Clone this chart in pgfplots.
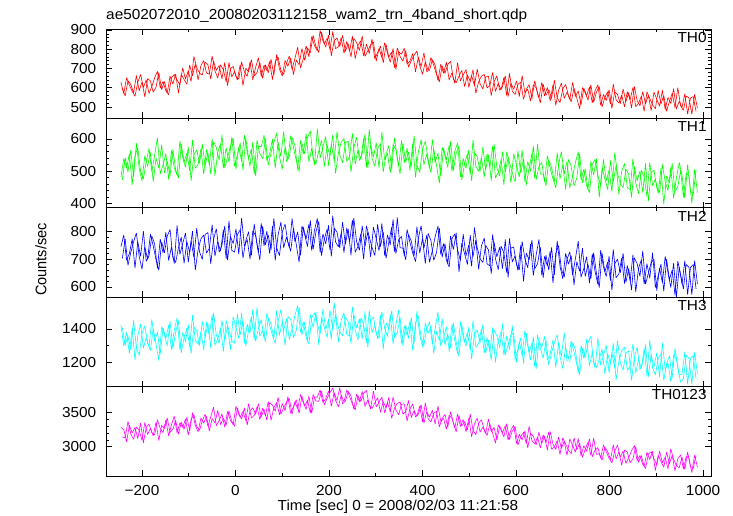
\documentclass[border=0pt]{standalone}
\usepackage{fontspec}
\setmainfont{Liberation Sans}
\usepackage{pgfplots}
\usepackage{pgfplotstable}
\pgfplotsset{compat=1.18}

\definecolor{cRed}{rgb}{1,0,0}
\definecolor{cGreen}{rgb}{0,1,0}
\definecolor{cBlue}{rgb}{0,0,1}
\definecolor{cCyan}{rgb}{0,1,1}
\definecolor{cMag}{rgb}{1,0,1}

% count rates; "a" tables: one value every 6 s from t = -245 s,
% "b" tables: the bins in between, from t = -242 s
\pgfplotstableread[row sep=\\]{y\\629\\570\\652\\614\\582\\556\\629\\669\\601\\641\\570\\607\\651\\685\\599\\633\\584\\564\\652\\669\\641\\615\\703\\645\\688\\632\\762\\706\\676\\666\\733\\719\\645\\739\\690\\716\\646\\732\\611\\698\\711\\658\\645\\734\\683\\659\\734\\641\\706\\756\\658\\717\\689\\736\\642\\734\\760\\691\\670\\727\\764\\696\\751\\810\\704\\751\\817\\761\\866\\818\\792\\897\\844\\812\\873\\766\\845\\858\\814\\872\\789\\829\\760\\856\\835\\793\\868\\763\\793\\823\\837\\738\\804\\756\\834\\780\\732\\804\\696\\786\\774\\805\\722\\738\\778\\683\\759\\709\\782\\684\\691\\746\\717\\637\\722\\675\\733\\641\\678\\623\\730\\636\\666\\695\\602\\664\\610\\697\\621\\594\\656\\659\\560\\632\\662\\587\\605\\662\\554\\624\\592\\635\\554\\663\\574\\593\\531\\616\\599\\546\\628\\558\\602\\532\\615\\509\\586\\624\\545\\577\\539\\628\\555\\584\\511\\597\\560\\604\\522\\584\\615\\509\\565\\534\\590\\493\\579\\566\\517\\594\\529\\576\\494\\607\\534\\506\\580\\516\\560\\481\\578\\541\\504\\587\\487\\549\\518\\595\\489\\530\\498\\569\\463\\546\\554\\478\\}\thzeroa
\pgfplotstableread[row sep=\\]{y\\593\\558\\637\\617\\573\\664\\584\\630\\553\\647\\636\\577\\603\\679\\590\\633\\572\\660\\619\\672\\572\\669\\643\\618\\718\\662\\723\\640\\715\\741\\676\\671\\765\\688\\651\\719\\694\\630\\731\\656\\684\\640\\720\\611\\701\\683\\746\\662\\679\\732\\649\\720\\677\\748\\666\\773\\697\\661\\742\\712\\754\\668\\744\\719\\804\\742\\806\\781\\872\\814\\783\\888\\829\\857\\798\\892\\803\\813\\859\\779\\840\\790\\868\\751\\820\\844\\766\\826\\778\\853\\750\\783\\816\\729\\825\\759\\786\\705\\807\\762\\738\\793\\707\\741\\769\\791\\714\\670\\734\\690\\757\\716\\669\\631\\713\\675\\721\\737\\645\\626\\661\\690\\606\\668\\632\\694\\571\\631\\660\\669\\599\\611\\680\\581\\623\\590\\653\\560\\674\\582\\565\\617\\629\\540\\592\\617\\543\\637\\572\\522\\619\\561\\590\\544\\639\\548\\523\\594\\617\\562\\527\\598\\546\\491\\601\\573\\536\\616\\525\\578\\606\\500\\550\\579\\515\\619\\537\\521\\562\\501\\580\\537\\602\\502\\519\\557\\478\\579\\545\\511\\491\\586\\516\\560\\478\\528\\572\\496\\600\\506\\483\\557\\547\\462\\566\\493\\}\thzerob

\pgfplotstableread[row sep=\\]{y\\482\\539\\509\\554\\458\\548\\572\\500\\476\\530\\570\\498\\549\\603\\492\\519\\555\\474\\564\\510\\488\\593\\542\\512\\575\\470\\551\\566\\524\\584\\516\\558\\492\\591\\573\\534\\612\\510\\543\\576\\602\\506\\575\\530\\611\\560\\515\\590\\485\\578\\575\\611\\533\\554\\599\\509\\590\\545\\623\\530\\544\\604\\580\\505\\595\\553\\616\\529\\571\\520\\631\\541\\574\\607\\517\\583\\532\\622\\550\\526\\587\\593\\497\\572\\605\\533\\554\\614\\509\\581\\543\\588\\510\\621\\534\\555\\495\\582\\567\\516\\595\\526\\571\\502\\586\\481\\559\\598\\520\\553\\508\\598\\526\\556\\484\\571\\535\\580\\499\\562\\587\\482\\539\\509\\566\\470\\557\\545\\497\\575\\503\\551\\470\\584\\512\\485\\560\\497\\542\\464\\554\\518\\482\\566\\467\\530\\500\\578\\473\\515\\527\\467\\548\\509\\476\\449\\521\\560\\491\\530\\449\\485\\527\\560\\473\\506\\455\\434\\521\\536\\488\\455\\536\\470\\503\\437\\557\\494\\461\\449\\506\\491\\419\\515\\470\\500\\434\\524\\407\\497\\503\\449\\434\\521\\467\\440\\512\\416\\479\\527\\488\\416\\521\\437\\428\\503\\}\thonea
\pgfplotstableread[row sep=\\]{y\\473\\542\\497\\566\\482\\587\\509\\470\\548\\515\\558\\468\\540\\510\\582\\495\\531\\486\\567\\504\\479\\584\\527\\557\\500\\596\\509\\521\\569\\491\\567\\519\\600\\486\\558\\585\\510\\573\\528\\606\\515\\551\\587\\503\\602\\539\\569\\491\\596\\554\\539\\599\\518\\557\\590\\617\\545\\506\\575\\536\\610\\574\\532\\499\\586\\553\\604\\625\\538\\523\\562\\595\\514\\580\\547\\613\\493\\556\\589\\601\\530\\545\\617\\521\\566\\536\\602\\512\\629\\539\\516\\570\\585\\498\\552\\579\\507\\603\\540\\492\\586\\529\\559\\514\\610\\520\\496\\568\\592\\538\\496\\568\\517\\463\\574\\547\\511\\592\\502\\556\\578\\473\\524\\554\\491\\596\\515\\500\\542\\482\\554\\512\\578\\479\\497\\536\\458\\560\\527\\494\\467\\563\\494\\539\\458\\509\\554\\479\\584\\491\\491\\455\\533\\512\\467\\557\\476\\521\\443\\536\\515\\455\\479\\554\\464\\506\\443\\530\\488\\539\\419\\509\\476\\443\\533\\467\\518\\428\\500\\524\\449\\443\\539\\464\\431\\503\\482\\422\\527\\455\\476\\431\\509\\398\\485\\464\\524\\437\\452\\503\\419\\494\\485\\401\\506\\434\\}\thoneb

\pgfplotstableread[row sep=\\]{y\\745\\787\\696\\720\\773\\668\\763\\710\\801\\692\\712\\783\\755\\667\\772\\723\\797\\695\\744\\684\\822\\717\\756\\794\\689\\766\\706\\812\\727\\699\\789\\796\\683\\771\\810\\725\\750\\820\\697\\782\\756\\809\\718\\848\\746\\771\\700\\802\\785\\725\\829\\748\\801\\720\\819\\696\\787\\833\\741\\780\\742\\847\\763\\798\\714\\816\\773\\826\\731\\805\\847\\724\\791\\755\\822\\710\\812\\798\\741\\833\\753\\809\\714\\848\\763\\732\\820\\746\\799\\707\\815\\773\\731\\829\\713\\787\\752\\843\\720\\770\\782\\712\\807\\761\\722\\691\\775\\821\\740\\786\\689\\731\\781\\819\\717\\756\\696\\672\\774\\791\\734\\695\\790\\712\\751\\674\\814\\741\\702\\688\\750\\733\\648\\761\\708\\743\\666\\771\\634\\740\\743\\680\\662\\764\\701\\669\\754\\641\\715\\771\\643\\710\\675\\728\\615\\721\\749\\664\\636\\700\\726\\642\\702\\765\\635\\666\\709\\614\\719\\656\\609\\732\\672\\637\\711\\588\\683\\700\\651\\721\\617\\667\\589\\705\\684\\638\\730\\610\\649\\688\\700\\587\\668\\615\\710\\651\\598\\686\\563\\672\\610\\695\\572\\670\\681\\593\\}\thtwoa
\pgfplotstableread[row sep=\\]{y\\703\\773\\678\\724\\763\\794\\710\\664\\745\\699\\790\\748\\698\\660\\762\\723\\783\\807\\705\\688\\741\\780\\685\\763\\724\\801\\661\\734\\773\\787\\722\\739\\824\\711\\764\\729\\806\\701\\838\\732\\725\\788\\806\\704\\767\\799\\714\\827\\753\\697\\819\\752\\787\\734\\847\\741\\713\\798\\826\\762\\728\\812\\752\\689\\819\\788\\745\\840\\735\\798\\836\\713\\773\\808\\734\\857\\762\\745\\794\\724\\813\\763\\841\\725\\746\\792\\700\\820\\781\\742\\713\\826\\745\\798\\703\\762\\815\\727\\850\\741\\740\\698\\789\\765\\712\\817\\722\\775\\684\\793\\767\\696\\724\\812\\707\\756\\682\\784\\735\\795\\653\\758\\719\\681\\786\\709\\769\\663\\748\\776\\683\\676\\789\\701\\662\\747\\722\\652\\775\\690\\712\\659\\750\\620\\722\\697\\768\\666\\683\\743\\633\\714\\661\\742\\643\\766\\675\\629\\721\\682\\712\\607\\691\\656\\740\\638\\681\\628\\723\\649\\598\\721\\654\\690\\623\\735\\633\\647\\704\\612\\677\\621\\716\\582\\667\\698\\610\\684\\631\\723\\598\\640\\682\\584\\700\\626\\661\\570\\693\\643\\593\\681\\670\\572\\695\\610\\}\thtwob

\pgfplotstableread[row sep=\\]{y\\1423\\1296\\1379\\1252\\1407\\1214\\1357\\1429\\1285\\1346\\1292\\1457\\1325\\1380\\1248\\1408\\1341\\1424\\1275\\1391\\1466\\1273\\1378\\1322\\1427\\1251\\1411\\1389\\1300\\1444\\1346\\1434\\1285\\1495\\1362\\1313\\1451\\1335\\1418\\1274\\1473\\1407\\1341\\1495\\1313\\1429\\1374\\1517\\1324\\1402\\1455\\1345\\1494\\1422\\1361\\1312\\1444\\1516\\1389\\1461\\1336\\1402\\1480\\1540\\1380\\1441\\1347\\1309\\1469\\1496\\1431\\1370\\1519\\1397\\1458\\1337\\1557\\1442\\1381\\1359\\1471\\1444\\1311\\1488\\1405\\1460\\1339\\1504\\1289\\1455\\1470\\1371\\1343\\1503\\1404\\1354\\1487\\1310\\1426\\1514\\1313\\1418\\1363\\1446\\1269\\1435\\1479\\1346\\1302\\1402\\1440\\1308\\1402\\1501\\1297\\1346\\1413\\1264\\1429\\1330\\1251\\1444\\1350\\1295\\1411\\1218\\1367\\1394\\1317\\1427\\1254\\1332\\1210\\1392\\1359\\1287\\1431\\1243\\1304\\1365\\1374\\1197\\1324\\1241\\1390\\1297\\1214\\1352\\1159\\1330\\1289\\1355\\1212\\1250\\1333\\1168\\1317\\1234\\1377\\1206\\1206\\1317\\1273\\1135\\1300\\1223\\1339\\1179\\1256\\1162\\1345\\1180\\1241\\1301\\1136\\1257\\1163\\1329\\1196\\1152\\1256\\1267\\1090\\1228\\1289\\1156\\1195\\1305\\1112\\1245\\1172\\1255\\1112\\1316\\1156\\1195\\1084\\1244\\1217\\1123\\1128\\1261\\1068\\1222\\1239\\1101\\}\ththreea
\pgfplotstableread[row sep=\\]{y\\1407\\1302\\1357\\1274\\1451\\1285\\1241\\1374\\1418\\1318\\1270\\1402\\1308\\1209\\1413\\1364\\1297\\1446\\1281\\1380\\1449\\1256\\1350\\1405\\1289\\1482\\1333\\1306\\1383\\1273\\1440\\1362\\1484\\1302\\1335\\1407\\1263\\1451\\1390\\1329\\1313\\1490\\1363\\1446\\1297\\1390\\1473\\1335\\1528\\1357\\1389\\1323\\1466\\1428\\1345\\1510\\1361\\1444\\1301\\1472\\1458\\1347\\1391\\1529\\1364\\1441\\1325\\1485\\1408\\1502\\1304\\1469\\1408\\1348\\1513\\1392\\1486\\1320\\1453\\1497\\1366\\1355\\1532\\1394\\1333\\1466\\1427\\1317\\1510\\1377\\1421\\1338\\1481\\1277\\1437\\1398\\1509\\1349\\1376\\1470\\1297\\1424\\1341\\1468\\1313\\1506\\1363\\1291\\1435\\1374\\1418\\1253\\1385\\1330\\1462\\1302\\1369\\1286\\1435\\1319\\1234\\1427\\1322\\1378\\1273\\1449\\1289\\1311\\1400\\1256\\1348\\1260\\1409\\1199\\1332\\1381\\1243\\1359\\1276\\1420\\1214\\1280\\1346\\1192\\1374\\1258\\1313\\1170\\1363\\1285\\1223\\1333\\1184\\1256\\1317\\1366\\1234\\1162\\1289\\1217\\1328\\1262\\1184\\1124\\1284\\1223\\1317\\1355\\1195\\1168\\1218\\1279\\1130\\1252\\1191\\1312\\1092\\1207\\1268\\1290\\1151\\1178\\1311\\1134\\1217\\1162\\1283\\1118\\1333\\1167\\1123\\1222\\1250\\1090\\1189\\1239\\1106\\1283\\1167\\1079\\1101\\1239\\1222\\1068\\1261\\1128\\}\ththreeb

\pgfplotstableread[row sep=\\]{y\\3286\\3252\\3073\\3316\\3206\\3283\\3121\\3348\\3057\\3286\\3335\\3206\\3174\\3398\\3269\\3207\\3394\\3159\\3323\\3449\\3204\\3354\\3285\\3405\\3171\\3403\\3470\\3296\\3242\\3385\\3477\\3304\\3439\\3581\\3310\\3385\\3483\\3287\\3519\\3391\\3324\\3595\\3474\\3407\\3573\\3318\\3529\\3574\\3476\\3634\\3439\\3553\\3394\\3650\\3613\\3523\\3727\\3479\\3569\\3660\\3711\\3479\\3661\\3557\\3769\\3652\\3548\\3745\\3491\\3733\\3730\\3835\\3650\\3707\\3822\\3597\\3798\\3680\\3870\\3632\\3670\\3815\\3749\\3555\\3774\\3663\\3815\\3591\\3690\\3556\\3820\\3586\\3659\\3731\\3497\\3652\\3515\\3731\\3540\\3471\\3625\\3630\\3379\\3556\\3629\\3438\\3481\\3620\\3347\\3518\\3433\\3537\\3332\\3600\\3373\\3416\\3256\\3464\\3417\\3280\\3480\\3298\\3401\\3218\\3420\\3147\\3333\\3421\\3215\\3289\\3193\\3409\\3220\\3286\\3097\\3305\\3205\\3309\\3097\\3246\\3320\\3048\\3183\\3099\\3233\\2985\\3194\\3156\\3027\\3214\\3048\\3159\\2948\\3226\\3036\\2961\\3140\\2974\\3079\\2874\\3115\\3017\\2920\\3122\\2866\\3016\\2933\\3120\\2850\\2948\\2988\\2831\\3028\\2923\\2833\\2760\\2933\\3024\\2845\\2936\\2755\\2840\\2941\\3017\\2794\\2871\\2738\\2680\\2893\\2925\\2821\\2735\\2934\\2764\\2844\\2675\\2972\\2811\\2724\\2691\\2846\\2662\\2922\\2709\\2683\\2868\\}\thalla
\pgfplotstableread[row sep=\\]{y\\3143\\3131\\3374\\3188\\3108\\3291\\3241\\3093\\3358\\3180\\3268\\3161\\3362\\3090\\3314\\3267\\3424\\3212\\3255\\3389\\3182\\3362\\3255\\3435\\3231\\3500\\3312\\3221\\3423\\3347\\3447\\3229\\3416\\3348\\3535\\3325\\3423\\3317\\3527\\3376\\3301\\3572\\3436\\3520\\3385\\3633\\3423\\3461\\3589\\3401\\3567\\3455\\3665\\3387\\3576\\3651\\3471\\3637\\3531\\3735\\3493\\3592\\3691\\3490\\3747\\3599\\3683\\3497\\3769\\3672\\3669\\3819\\3616\\3714\\3797\\3864\\3684\\3586\\3759\\3661\\3836\\3740\\3628\\3540\\3752\\3663\\3785\\3831\\3607\\3564\\3647\\3721\\3508\\3664\\3572\\3727\\3418\\3565\\3638\\3659\\3482\\3509\\3680\\3428\\3531\\3446\\3601\\3365\\3648\\3412\\3366\\3492\\3520\\3292\\3418\\3476\\3286\\3517\\3349\\3220\\3458\\3306\\3371\\3248\\3480\\3244\\3175\\3346\\3396\\3251\\3163\\3334\\3197\\3053\\3322\\3245\\3145\\3339\\3105\\3231\\3297\\3025\\3145\\3212\\3045\\3300\\3088\\3043\\3140\\2981\\3176\\3061\\3219\\2963\\2999\\3089\\2884\\3132\\3041\\2949\\2897\\3130\\2950\\3055\\2844\\2963\\3068\\2872\\3128\\2887\\2898\\2801\\2990\\2931\\2811\\3030\\2820\\2926\\2725\\2951\\2921\\2765\\2820\\3002\\2772\\2871\\2708\\2920\\2810\\2933\\2648\\2870\\2783\\2697\\2919\\2750\\2875\\2645\\2822\\2879\\2673\\2858\\2832\\2619\\2879\\2695\\}\thallb

\tikzset{
  txt/.style={font=\fontsize{14.5}{17}\selectfont, xscale=1.06},
  lab/.style={txt, anchor=north east, inner sep=0pt, xshift=-4pt, yshift=-3pt},
}
\pgfplotsset{
  panel/.style={
    scale only axis, width=605pt, height=89.4pt,
    anchor=south west,
    xmin=-277, xmax=1017,
    xtick={-200,0,200,400,600,800,1000},
    minor x tick num=1,
    axis line style={line width=0.8pt, black},
    tick align=inside, tick pos=both, ticklabel pos=left,
    major tick length=6pt, minor tick length=3pt,
    every tick/.style={black, line width=0.6pt},
    /pgf/number format/assume math mode=true,
    /pgf/number format/set thousands separator={},
    yticklabel style={txt, inner sep=0pt, anchor=east, xshift=-9pt},
    xticklabel style={txt, inner sep=0pt, anchor=north, yshift=-9pt},
    xticklabels={},
    every axis plot/.append style={line width=0.6pt, mark=none, line join=bevel},
  }
}

\begin{document}
\begin{tikzpicture}[x=1pt,y=1pt]
\path[use as bounding box] (0,0) rectangle (733,516);

\begin{axis}[panel, at={(106pt,397.6pt)}, ymin=441, ymax=905,
  ytick={500,600,700,800,900}, minor y tick num=4]
\addplot[cRed] table[x expr=-245+6*\coordindex, y=y] {\thzeroa};
\addplot[cRed] table[x expr=-242+6*\coordindex, y=y] {\thzerob};
\node[lab] at (rel axis cs:1,1) {TH0};
\end{axis}

\begin{axis}[panel, at={(106pt,308.2pt)}, ymin=387, ymax=663,
  ytick={400,500,600}, minor y tick num=4]
\addplot[cGreen] table[x expr=-245+6*\coordindex, y=y] {\thonea};
\addplot[cGreen] table[x expr=-242+6*\coordindex, y=y] {\thoneb};
\node[lab] at (rel axis cs:1,1) {TH1};
\end{axis}

\begin{axis}[panel, at={(106pt,218.8pt)}, ymin=563, ymax=885,
  ytick={600,700,800}, minor y tick num=4]
\addplot[cBlue] table[x expr=-245+6*\coordindex, y=y] {\thtwoa};
\addplot[cBlue] table[x expr=-242+6*\coordindex, y=y] {\thtwob};
\node[lab] at (rel axis cs:1,1) {TH2};
\end{axis}

\begin{axis}[panel, at={(106pt,129.4pt)}, ymin=1053, ymax=1590,
  ytick={1200,1400}, minor y tick num=1]
\addplot[cCyan] table[x expr=-245+6*\coordindex, y=y] {\ththreea};
\addplot[cCyan] table[x expr=-242+6*\coordindex, y=y] {\ththreeb};
\node[lab] at (rel axis cs:1,1) {TH3};
\end{axis}

\begin{axis}[panel, at={(106pt,40pt)}, ymin=2569, ymax=3885,
  ytick={3000,3500}, minor y tick num=4,
  xticklabels={−200,0,200,400,600,800,1000}]
\addplot[cMag] table[x expr=-245+6*\coordindex, y=y] {\thalla};
\addplot[cMag] table[x expr=-242+6*\coordindex, y=y] {\thallb};
\node[lab] at (rel axis cs:1,1) {TH0123};
\end{axis}

\node[txt, anchor=base west, inner sep=0pt] at (106,496.5) {ae502072010\_20080203112158\_wam2\_trn\_4band\_short.qdp};
\node[txt, rotate=90, inner sep=0pt] at (41,256.5) {Counts/sec};
\node[txt, anchor=base, inner sep=0pt] at (398,5) {Time [sec] 0 = 2008/02/03 11:21:58};
\end{tikzpicture}
\end{document}
